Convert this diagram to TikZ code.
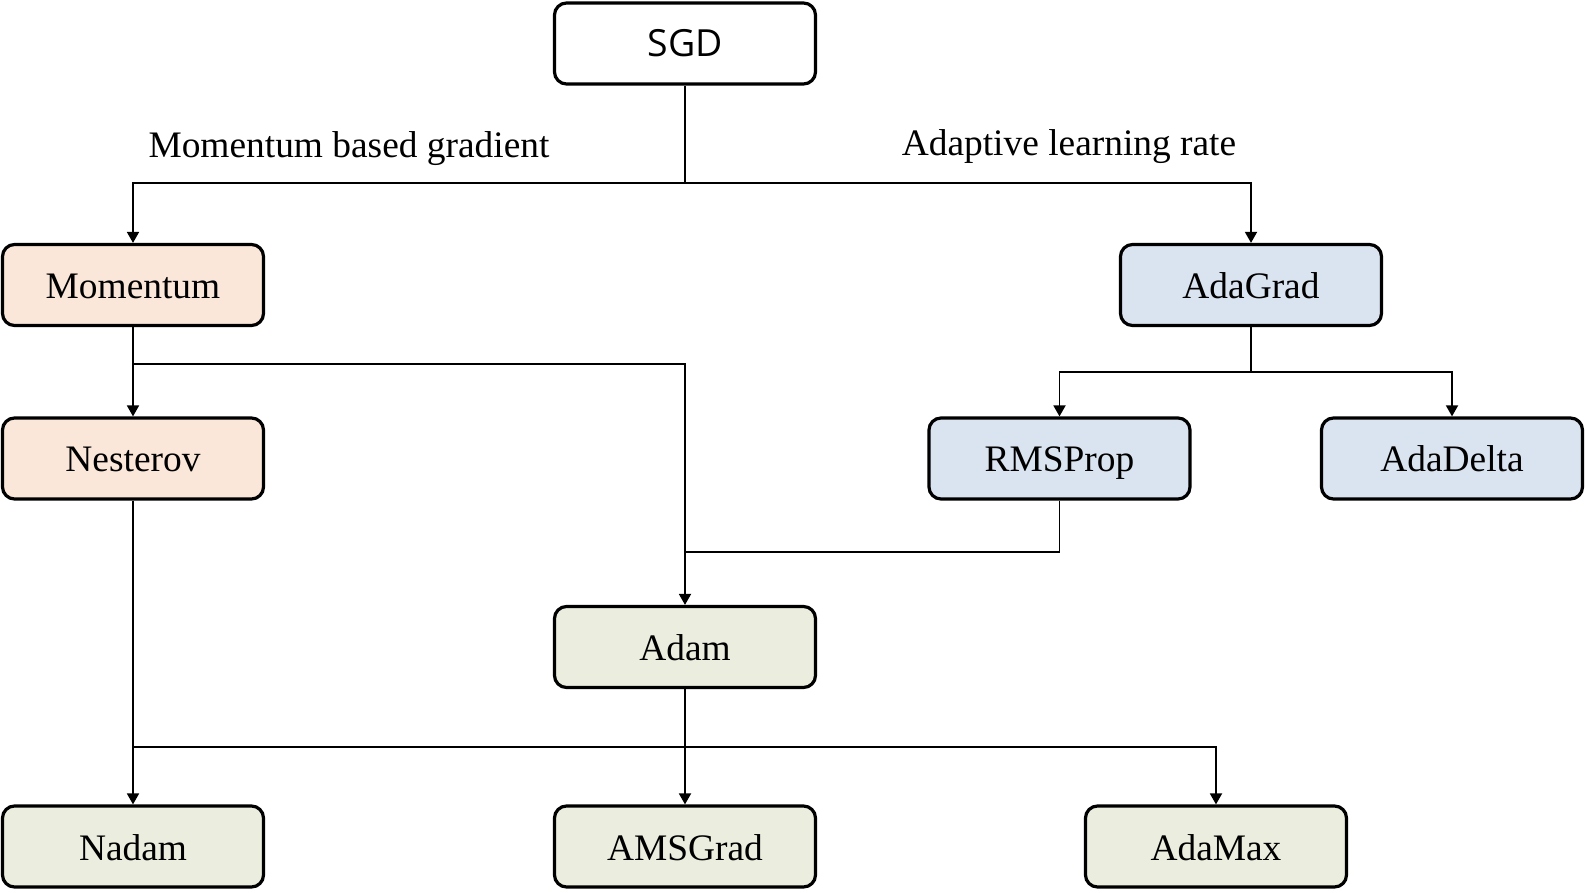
\documentclass[tikz,border=0pt]{standalone}
\usepackage{fontspec}
\setmainfont{Liberation Serif}
\newfontfamily\sgdfont{Open Sans}
\usetikzlibrary{arrows.meta}
\definecolor{momfill}{HTML}{FBE7D9}
\definecolor{adafill}{HTML}{DAE3F0}
\definecolor{adamfill}{HTML}{EBEEDE}
\newcommand{\boxfont}{\fontsize{18.7}{22}\selectfont}
\tikzset{
 optbox/.style={draw, line width=1.6pt, rounded corners=6pt, minimum width=130.5pt, minimum height=40.5pt, text height=13.5pt, text depth=0pt, font=\boxfont},
 branchlabel/.style={anchor=base, font=\boxfont},
 link/.style={line width=0.9pt},
 linkarrow/.style={link, -{Triangle[length=5.5pt,width=6pt]}}
}
\begin{document}
\begin{tikzpicture}[x=0.5pt,y=-0.5pt]
\useasboundingbox (0,0) rectangle (1586,893);
%Root
\node [optbox, font=\sgdfont\boxfont] (sgd) at (685,43.5) {SGD};
%Momentum family
\node [optbox, fill=momfill] (momentum) at (133,285) {Momentum};
\node [optbox, fill=momfill] (nesterov) at (133,458.5) {Nesterov};
%Adaptive family
\node [optbox, fill=adafill] (adagrad) at (1251,285) {AdaGrad};
\node [optbox, fill=adafill] (rmsprop) at (1059.5,458.5) {RMSProp};
\node [optbox, fill=adafill] (adadelta) at (1452,458.5) {AdaDelta};
%Adam family
\node [optbox, fill=adamfill] (adam) at (685,647) {Adam};
\node [optbox, fill=adamfill] (nadam) at (133,846.5) {Nadam};
\node [optbox, fill=adamfill] (amsgrad) at (685,846.5) {AMSGrad};
\node [optbox, fill=adamfill] (adamax) at (1216,846.5) {AdaMax};
%Branch labels
\node [branchlabel] (momlabel) at (349,158) {Momentum based gradient};
\node [branchlabel] (adalabel) at (1069,156) {Adaptive learning rate};
%Split points
\coordinate (sgdsplit) at (685,183);
\coordinate (momsplit) at (133,364);
\coordinate (adasplit) at (1251,372);
\coordinate (adamjoin) at (685,552);
\coordinate (nessplit) at (133,747);
%Connectors
\draw [link] (sgd.south) -- (sgdsplit);
\draw [linkarrow] (sgdsplit) -| (momentum.north);
\draw [linkarrow] (sgdsplit) -| (adagrad.north);
\draw [linkarrow] (momentum.south) -- (nesterov.north);
\draw [linkarrow] (momsplit) -| (adam.north);
\draw [link] (adagrad.south) -- (adasplit);
\draw [linkarrow] (adasplit) -| (rmsprop.north);
\draw [linkarrow] (adasplit) -| (adadelta.north);
\draw [link] (rmsprop.south) |- (adamjoin);
\draw [linkarrow] (nesterov.south) -- (nadam.north);
\draw [linkarrow] (nessplit) -| (adamax.north);
\draw [linkarrow] (adam.south) -- (amsgrad.north);
\end{tikzpicture}
\end{document}
